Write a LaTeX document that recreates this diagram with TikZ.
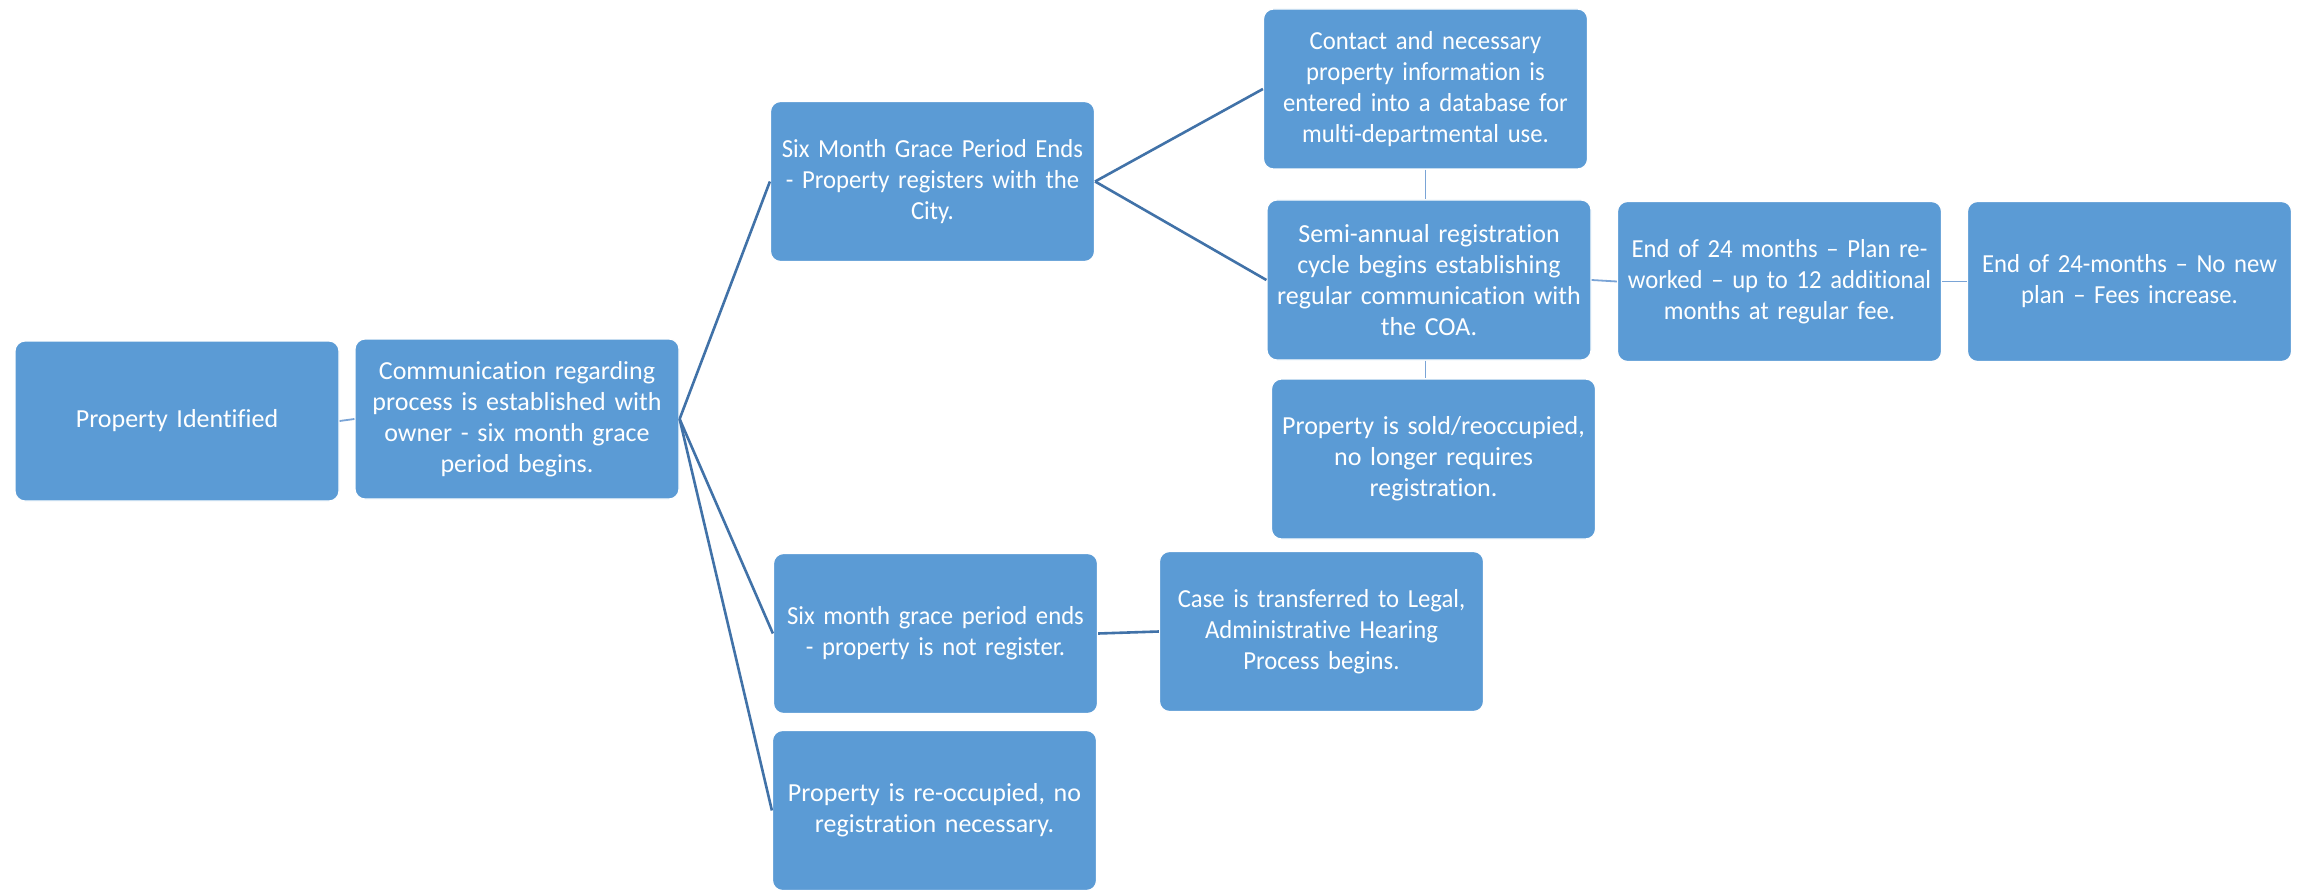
\documentclass[tikz,border=0pt]{standalone}
\usepackage{fontspec}
\setmainfont{Carlito}[Ligatures=NoCommon]
\newfontfamily\condfont{Carlito}[Ligatures=NoCommon,FakeStretch=0.95]
\definecolor{boxblue}{RGB}{91,155,213}
\definecolor{linkdark}{RGB}{65,114,168}
\definecolor{linklight}{RGB}{122,164,214}
\tikzset{
  stagebox/.style={draw=white, line width=1.2pt, fill=boxblue, rounded corners=10pt,
    minimum width=324pt, minimum height=160pt, text width=324pt, inner sep=0pt,
    align=center, text=white, font=\fontsize{26}{31}\selectfont},
  condbox/.style={stagebox, font=\fontsize{26}{31}\condfont},
  linkmain/.style={draw=linkdark, line width=2.6pt},
  linkside/.style={draw=linklight, line width=1.8pt}
}
\begin{document}
\begin{tikzpicture}[x=1pt,y=-1pt]
            \useasboundingbox (0,0) rectangle (2306,890);
            \fill [white] (0,0) rectangle (2306,890);%
            
            % First two steps
            \node [stagebox] (ident) at (177.0,421.0) {Property Identified};%
            \node [stagebox] (comm) at (517.0,419.0) {Communication regarding\\process is established with\\owner - six month grace\\period begins.};%
            
            % Branch: property registers
            \node [condbox] (regd) at (932.5,181.5) {Six Month Grace Period Ends\\- Property registers with the\\City.};%
            \node [condbox] (contact) at (1425.5,89.0) {Contact and necessary\\property information is\\entered into a database for\\multi-departmental use.};%
            \node [stagebox] (semi) at (1429.0,280.0) {Semi-annual registration\\cycle begins establishing\\regular communication with\\the COA.};%
            \node [stagebox] (sold) at (1433.5,459.0) {Property is sold/reoccupied,\\no longer requires\\registration.};%
            \node [condbox] (rework) at (1779.5,281.5) {End of 24 months – Plan re-\\worked – up to 12 additional\\months at regular fee.};%
            \node [condbox] (nonew) at (2129.5,281.5) {End of 24-months – No new\\plan – Fees increase.};%
            
            % Branch: property not registered
            \node [condbox] (notreg) at (935.5,633.5) {Six month grace period ends\\- property is not register.};%
            \node [condbox] (legal) at (1321.5,631.5) {Case is transferred to Legal,\\Administrative Hearing\\Process begins.};%
            
            % Branch: property re-occupied
            \node [stagebox] (reocc) at (934.5,810.5) {Property is re-occupied, no\\registration necessary.};%
            
            % Drawing the connectors
            \draw [linkside] (ident.east) -- (comm.west);%
            \draw [linkmain] (comm.east) -- (regd.west);%
            \draw [linkmain] (comm.east) -- (notreg.west);%
            \draw [linkmain] (comm.east) -- (reocc.west);%
            \draw [linkmain] (regd.east) -- (contact.west);%
            \draw [linkmain] (regd.east) -- (semi.west);%
            \draw [linkside] (contact.south) -- (contact.south |- semi.north);%
            \draw [linkside] (contact.south |- semi.south) -- (contact.south |- sold.north);%
            \draw [linkside] (semi.east) -- (rework.west);%
            \draw [linkside] (rework.east) -- (nonew.west);%
            \draw [linkmain] (notreg.east) -- (legal.west);%
        \end{tikzpicture}
\end{document}
